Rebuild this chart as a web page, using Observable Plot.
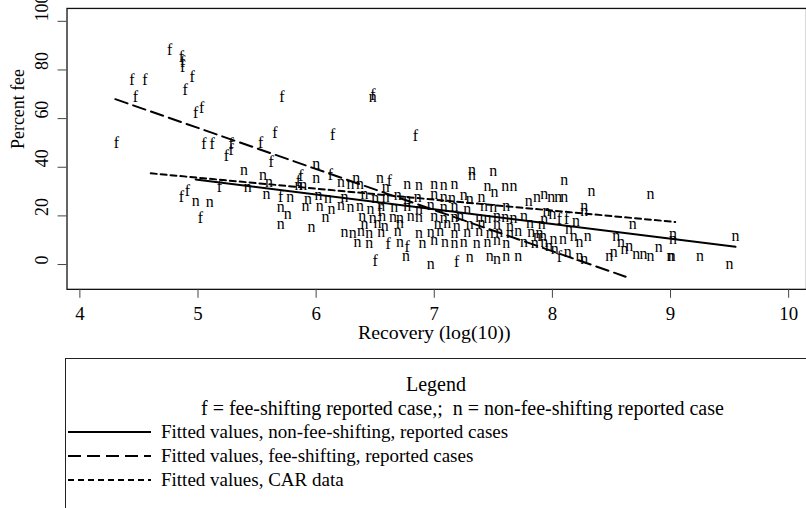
<!DOCTYPE html>
<html><head><meta charset="utf-8">
<script src="https://cdn.jsdelivr.net/npm/d3@7"></script>
<script src="https://cdn.jsdelivr.net/npm/@observablehq/plot@0.6"></script>
<style>
html,body{margin:0;padding:0;background:#fff;overflow:hidden;width:806px;height:508px}
#wrap{position:relative;width:806px;height:508px;overflow:hidden;font-family:"Liberation Serif","Times New Roman",serif}
#chart{position:absolute;left:0;top:0}
#legend{position:absolute;left:65px;top:358px;width:800px;height:220px;border:1px solid #222;box-sizing:border-box}
.row{position:absolute;font-size:19px;line-height:20px;white-space:pre;color:#000}
</style></head><body>
<div id="wrap"><div id="chart"></div><div id="legend"></div></div>
<script>
// fee-shifting reported cases ("f")
const feeX = [4.76,4.86,4.87,4.87,4.95,4.89,4.44,4.55,4.47,4.98,5.03,4.31,5.05,5.12,5.28,5.28,5.24,5.53,5.65,5.71,5.62,6.14,6.48,6.84,
  4.86,4.91,5.02,5.18,5.70,5.85,5.87,6.12,6.62,6.54,6.61,6.77,6.50,7.19,8.06,8.12,8.06];
const feeY = [88.2,85.3,83.3,81.2,77.1,71.8,75.9,75.9,69,62.4,64.5,50.2,49.4,49.4,49.4,47.3,44.5,50.2,54.3,69,42.4,53.5,69.8,52.7,
  27.8,30.2,19.2,32,28,34.3,36.3,37,34.3,22,8.6,7.3,1.6,1.2,18.8,18.8,3.3];
// non-fee-shifting reported cases ("n")
const nonX = [4.98,5.10,5.42,5.39,5.55,5.60,5.58,5.70,5.76,5.70,5.78,5.91,5.89,5.85,6.48,
  6.0,6.0,6.21,6.29,6.37,6.34,6.54,6.59,6.77,6.87,7.0,7.08,7.17,7.32,7.32,7.5,7.45,7.51,7.6,7.67,7.80,7.87,7.93,
  5.93,6.02,6.10,6.24,6.41,6.50,6.59,6.69,6.77,6.86,7.0,7.08,7.15,7.25,7.30,7.40,
  6.03,6.13,6.21,6.29,6.37,6.46,6.55,6.66,6.77,6.87,6.97,7.08,7.17,7.28,7.42,7.50,7.61,
  6.08,6.39,6.48,6.56,6.65,6.71,6.80,6.87,7.0,7.08,7.17,7.22,7.38,7.45,7.53,7.60,7.67,7.76,
  5.96,6.41,6.52,6.58,6.71,7.03,7.11,7.19,7.30,7.40,7.53,7.64,7.81,7.91,
  6.24,6.31,6.38,6.45,6.55,6.69,6.87,6.97,7.05,7.17,7.28,7.38,7.47,7.55,7.64,7.71,7.82,7.89,
  6.35,6.45,6.71,6.90,7.0,7.09,7.17,7.25,7.36,7.45,7.53,7.61,7.76,7.85,7.93,
  6.76,6.97,7.30,7.47,7.53,7.61,7.71,
  8.10,8.33,8.83,7.99,8.05,8.10,8.27,8.27,7.93,8.20,8.68,8.14,7.87,7.92,8.01,8.09,8.18,8.23,8.30,8.54,8.58,8.65,
  9.02,9.02,9.55,7.97,8.02,8.13,8.23,8.27,8.48,8.52,8.61,8.71,8.77,8.83,8.90,9.0,9.01,9.25,9.5,7.95,8.0];
const nonY = [26,25.7,32,38.8,37,34,29,23.7,20.8,16.7,27.8,24,32.6,32.7,69,
  41.2,35.5,33.9,33,33,35.5,35.5,31.8,33,32.6,33,32.6,33,39,37,38.4,32.2,29.8,32.2,32.2,26,27.8,29,
  27,28.5,27.5,28,29,27.5,28,28.5,27,28,29,28,27.5,28.5,27,28,
  24,23,24.5,23.5,24,23,24,23.5,24,23,24.5,23.5,24,23,24,23.5,24,
  19.5,20,19,20,19.5,19,20,19.5,20,19,19.5,20,19.5,19,20,19.5,19,20,
  15.5,16.5,17,16,17,16.5,17,16,16.5,17,16.5,16,17,16.5,
  13.5,13,14,13,13.5,14,13,13.5,14,13,13.5,14,13,13.5,13,14,13.5,13,
  9.5,9,9.5,9,10,9.5,9,9.5,9,9.5,10,9,9.5,9,9.5,
  3.7,0.4,3.3,3.7,2.4,3.7,3.7,
  35,30.2,29,27.7,27.7,27.7,24,22,18.8,18,16.7,14.7,11.8,11.8,10.6,10.6,11.8,9.4,11.8,11.8,9.4,7.8,
  12.7,10.6,11.8,7.8,6.5,5.3,3.7,2.4,3.7,5.3,6.5,4.5,4.5,3.7,7.3,3.7,3.7,3.7,0.4,22,21];
// fitted lines (end points)
const fitNonX = [4.98, 9.55], fitNonY = [35, 7.3];
const fitFeeX = [4.30, 8.62], fitFeeY = [68, -5];
const fitCarX = [4.60, 9.04], fitCarY = [37.5, 17.5];
const xTicks = [4,5,6,7,8,9,10];
const yTicks = [0,20,40,60,80,100];
const xLabel = "Recovery (log(10))";
const yLabel = "Percent fee";
const legendTitle = "Legend";
const legendKey = "f = fee-shifting reported case,;  n = non-fee-shifting reported case";
const legendLabels = ["Fitted values, non-fee-shifting, reported cases","Fitted values, fee-shifting, reported cases","Fitted values, CAR data"];
const legendDash = [null, "13,6", "6,4"];

const fee = feeX.map((x,i)=>({x, y: feeY[i]}));
const non = nonX.map((x,i)=>({x, y: nonY[i]}));
const pts = (X,Y)=>X.map((x,i)=>({x, y: Y[i]}));
const font = "Liberation Serif, Times New Roman, serif";

const chart = Plot.plot({
  width: 812, height: 350,
  marginLeft: 67, marginRight: 0, marginTop: 8, marginBottom: 59,
  style: {fontFamily: font, fontSize: "18px", background: "white", color: "black", overflow: "visible"},
  x: {domain: [3.891, 10.151], axis: null},
  y: {domain: [-10.2, 105.3], axis: null},
  marks: [
    Plot.frame({stroke: "#111", strokeWidth: 1.3}),
    Plot.axisX(xTicks, {anchor: "bottom", tickSize: 9, tickPadding: 8, stroke: "#444", fontSize: 19, fontFamily: font, label: null, tickFormat: d => String(d)}),
    Plot.axisY(yTicks, {anchor: "left", tickSize: 9, stroke: "#444", tickFormat: () => "", label: null}),
    Plot.text(yTicks, {y: d => d, text: d => String(d), frameAnchor: "left", dx: -25, rotate: -90, fontSize: 18, fontFamily: font}),
    Plot.text([yLabel], {frameAnchor: "left", dx: -49, rotate: -90, fontSize: 18, fontFamily: font}),
    Plot.text([xLabel], {x: () => 7, frameAnchor: "bottom", dy: 50, fontSize: 20, fontFamily: font}),
    Plot.line(pts(fitCarX, fitCarY), {x: "x", y: "y", stroke: "black", strokeWidth: 2, strokeDasharray: "6,4"}),
    Plot.line(pts(fitFeeX, fitFeeY), {x: "x", y: "y", stroke: "black", strokeWidth: 2, strokeDasharray: "13,6"}),
    Plot.line(pts(fitNonX, fitNonY), {x: "x", y: "y", stroke: "black", strokeWidth: 2}),
    Plot.text(non, {x: "x", y: "y", text: () => "n", fontSize: 16, fontFamily: font, fill: "black"}),
    Plot.text(fee, {x: "x", y: "y", text: () => "f", fontSize: 16, fontFamily: font, fill: "black"})
  ]
});
document.getElementById("chart").appendChild(chart);

const lg = document.getElementById("legend");
function row(text, left, top, center, size) {
  const d = document.createElement("div");
  d.className = "row"; d.textContent = text;
  d.style.top = (top - 10) + "px";
  if (size) d.style.fontSize = size + "px";
  d.style.left = left + "px";
  if (center) d.style.transform = "translateX(-50%)";
  lg.appendChild(d);
}
row(legendTitle, 370, 25, true, 20);
row(legendKey, 135, 49, false, 20);
legendLabels.forEach((t, i) => {
  const cy = 73 + i * 24;
  const svg = d3.create("svg").attr("width", 90).attr("height", 10)
    .style("position", "absolute").style("left", "1px").style("top", (cy - 5) + "px");
  const l = svg.append("line").attr("x1", 1).attr("x2", 84).attr("y1", 5).attr("y2", 5)
    .attr("stroke", "black").attr("stroke-width", 2);
  if (legendDash[i]) l.attr("stroke-dasharray", legendDash[i]);
  lg.appendChild(svg.node());
  row(t, 95, cy, false);
});
</script>
</body></html>
